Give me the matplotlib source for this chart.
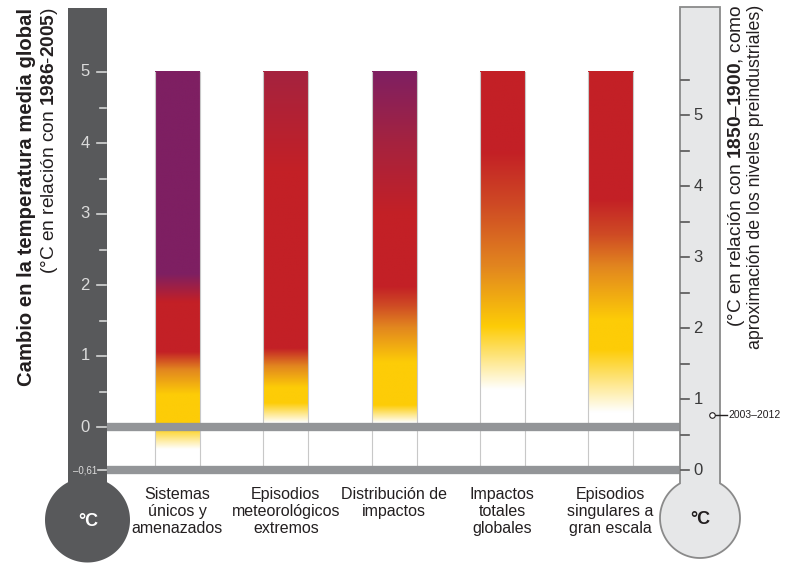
import numpy as np
import matplotlib.pyplot as plt
from matplotlib.colors import to_rgb
from matplotlib.patches import Polygon

plt.rcParams['font.family'] = ['Liberation Sans', 'DejaVu Sans']
plt.rcParams['mathtext.fontset'] = 'custom'
plt.rcParams['mathtext.rm'] = 'Liberation Sans'
plt.rcParams['mathtext.bf'] = 'Liberation Sans:bold'

categories = ["Sistemas\núnicos y\namenazados",
              "Episodios\nmeteorológicos\nextremos",
              "Distribución de\nimpactos",
              "Impactos\ntotales\nglobales",
              "Episodios\nsingulares a\ngran escala"]

# colour stops of each ember (°C relative to 1986-2005)
stops_1 = [-0.32, 0.0, 0.45, 0.8, 1.05, 1.75, 2.15]
cols_1 = ['white', 'yellow', 'yellow', 'orange', 'red', 'red', 'purple']
stops_2 = [0.05, 0.33, 0.55, 0.85, 1.1, 3.6, 5.0]
cols_2 = ['white', 'yellow', 'yellow', 'orange', 'red', 'red', 'crimson']
stops_3 = [0.05, 0.3, 0.9, 1.4, 1.7, 1.97, 3.0, 4.0, 5.0]
cols_3 = ['white', 'yellow', 'yellow', 'orange', 'redorange', 'red', 'red', 'crimson', 'purple']
stops_4 = [0.52, 1.41, 2.25, 3.1, 3.86, 5.0]
cols_4 = ['white', 'yellow', 'orange', 'redorange', 'red', 'red']
stops_5 = [0.2, 1.08, 1.5, 2.25, 2.7, 3.2, 5.0]
cols_5 = ['white', 'yellow', 'yellow', 'orange', 'redorange', 'red', 'red']

palette = {'white': '#ffffff', 'yellow': '#fdcc07', 'orange': '#e2861f',
           'redorange': '#cf4b24', 'red': '#c32026', 'crimson': '#a5233f',
           'purple': '#7e1f62'}

left_ticks = [0, 1, 2, 3, 4, 5]
right_ticks = [0, 1, 2, 3, 4, 5]
offset = 0.61          # 1986-2005 minus 1850-1900
recent = 0.78          # 2003-2012 on the pre-industrial scale
ember_top = 5.0

# pixel layout helpers
X0, DX = 177.5, 108.25
Y0, DY = 427.0, 71.0


def xd(px):
    return (px - X0) / DX


def yd(py):
    return (Y0 - py) / DY


def thermometer(cx, hw, top, bcy, r):
    dy = np.sqrt(r ** 2 - hw ** 2)
    a_left = np.arctan2(-dy, -hw)
    a_right = np.arctan2(-dy, hw) - 2 * np.pi
    t = np.linspace(a_left, a_right, 200)
    pts = [(cx - hw, top)] + list(zip(cx + r * np.cos(t), bcy + r * np.sin(t))) + [(cx + hw, top)]
    return [(xd(x), yd(y)) for x, y in pts]


fig = plt.figure(figsize=(8.05, 5.64), dpi=100)
ax = fig.add_axes([0, 0, 1, 1])

# embers
w = 45 / DX
ys = np.linspace(-offset, ember_top, 600)
for i, (st, cl) in enumerate(zip([stops_1, stops_2, stops_3, stops_4, stops_5],
                                 [cols_1, cols_2, cols_3, cols_4, cols_5])):
    rgb = np.array([to_rgb(palette[c]) for c in cl])
    img = np.stack([np.interp(ys, st, rgb[:, k]) for k in range(3)], axis=-1)
    img = img[:, None, :]
    ax.imshow(img, extent=(i - w / 2, i + w / 2, -offset, ember_top), origin='lower',
              aspect='auto', interpolation='bilinear', zorder=1)
    for e in (i - w / 2, i + w / 2):
        ax.plot([e, e], [-offset, ember_top], color='#c8c8c8', lw=0.8, zorder=2)
    ax.text(i, yd(487), categories[i], ha='center', va='top', fontsize=11.5,
            color='#231f20', linespacing=1.15)

# reference lines
for v in (0, -offset):
    ax.plot([xd(106), xd(681)], [v, v], color='#939598', lw=6, solid_capstyle='butt', zorder=3)

# left thermometer
ax.add_patch(Polygon(thermometer(87.5, 19.5, 8, 520, 42.5), closed=True, fc='#58595b', ec='none', zorder=4))
for v in left_ticks:
    ax.plot([xd(97), xd(106)], [v, v], color='#d6d6d6', lw=1.2, zorder=5)
    ax.text(xd(85), v, str(v), ha='center', va='center', fontsize=12, color='#dcdcdc', zorder=5)
for v in np.arange(0.5, 5, 1.0):
    ax.plot([xd(100), xd(106)], [v, v], color='#d6d6d6', lw=1.2, zorder=5)
ax.plot([xd(98), xd(106)], [-offset, -offset], color='#d6d6d6', lw=1.2, zorder=5)
ax.text(xd(85), -offset, '–0,61', ha='center', va='center', fontsize=7, color='#dcdcdc', zorder=5)
ax.text(xd(88), yd(521), '°C', ha='center', va='center', fontsize=13, fontweight='bold',
        color='white', zorder=5)

# right thermometer
ax.add_patch(Polygon(thermometer(700, 20, 7, 518, 40), closed=True, fc='#e6e7e8', ec='#8a8a8a',
                     lw=1.3, zorder=4))
for r in right_ticks:
    ax.plot([xd(681), xd(689)], [r - offset, r - offset], color='#555555', lw=1.2, zorder=5)
    ax.text(xd(698), r - offset, str(r), ha='center', va='center', fontsize=12, color='#3a3a3a', zorder=5)
for r in np.arange(0.5, 6, 1.0):
    ax.plot([xd(681), xd(689)], [r - offset, r - offset], color='#555555', lw=1.2, zorder=5)
ax.text(xd(700), yd(520), '°C', ha='center', va='center', fontsize=13, fontweight='bold',
        color='#231f20', zorder=5)

# 2003-2012 marker
ax.plot([xd(714), xd(727)], [recent - offset] * 2, color='#231f20', lw=1, zorder=6)
ax.plot(xd(712), recent - offset, 'o', mfc='white', mec='#231f20', ms=4, mew=0.8, zorder=7)
ax.text(xd(728), recent - offset, '2003–2012', ha='left', va='center', fontsize=7.5,
        color='#231f20', zorder=6)

# axis titles
ax.text(xd(27), yd(8), 'Cambio en la temperatura media global', rotation=90, ha='center', va='top',
        fontsize=14.6, fontweight='bold', color='#231f20')
ax.text(xd(50), yd(7), r'(°C en relación con $\mathbf{1986}$-$\mathbf{2005}$)', rotation=90,
        ha='center', va='top', fontsize=13.8, color='#231f20')
ax.text(xd(736), yd(5), r'(°C en relación con $\mathbf{1850}$–$\mathbf{1900}$, como', rotation=90,
        ha='center', va='top', fontsize=13.8, color='#231f20')
ax.text(xd(755), yd(5), 'aproximación de los niveles preindustriales)', rotation=90,
        ha='center', va='top', fontsize=12.8, color='#231f20')

ax.set_xlim(xd(0), xd(805))
ax.set_ylim(yd(564), yd(0))
ax.axis('off')

fig.savefig('out.png', dpi=100)
